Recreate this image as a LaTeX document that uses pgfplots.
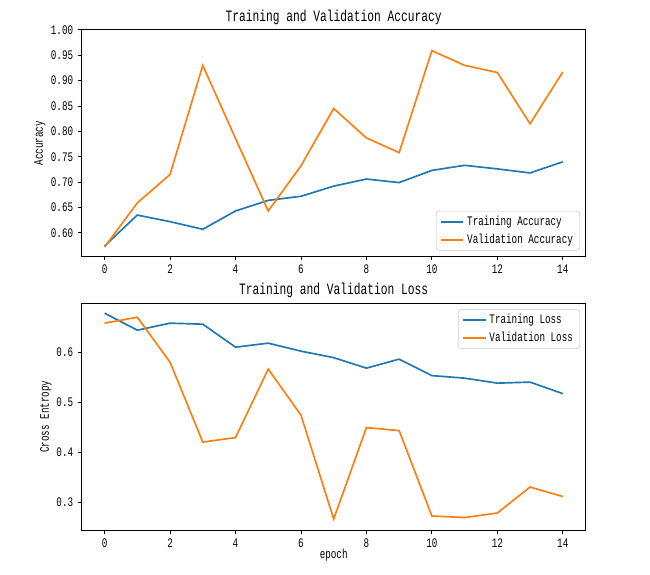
\documentclass[border=0pt]{standalone}
\usepackage{pgfplots}
\pgfplotsset{compat=1.18}
\usepackage{fontspec}
\setmainfont{Liberation Mono}[FakeStretch=0.71]

\definecolor{tabblue}{HTML}{1F77B4}
\definecolor{taborange}{HTML}{FF7F0E}

\newcommand{\ticksize}{\fontsize{9.4}{10.2}\selectfont}
\newcommand{\titlesize}{\fontsize{11.4}{13}\selectfont}

\pgfplotsset{
  mpl/.style={
    scale only axis,
    width=362.9pt, height=163.3pt,
    xmin=-0.7, xmax=14.7,
    xtick={0,2,...,14},
    tick align=outside,
    tick pos=left,
    major tick length=2.6pt,
    tick style={black, line width=0.6pt},
    axis line style={black, line width=0.6pt},
    every tick label/.append style={font=\ticksize},
    /pgf/number format/assume math mode=true,
    every axis title/.style={font=\titlesize, at={(0.5,1)}, anchor=base, yshift=6pt},
    legend cell align=left,
    legend image code/.code={\draw[#1, line width=1.45pt] (0pt,0pt) -- (16pt,0pt);},
    legend style={font=\ticksize, draw=black!20, rounded corners=2pt,
      fill=white, fill opacity=0.8, text opacity=1,
      inner xsep=3pt, inner ysep=1.5pt, row sep=0.5pt},
  },
  trn/.style={tabblue, line width=1.2pt},
  val/.style={taborange, line width=1.2pt},
}

\begin{document}
\begin{tikzpicture}
\useasboundingbox (0,0) rectangle (468pt,413.3pt);

% accuracy per epoch
\begin{axis}[mpl,
    at={(58.8pt,228.5pt)}, anchor=south west,
    ymin=0.553, ymax=1.0,
    ytick={0.60,0.65,0.70,0.75,0.80,0.85,0.90,0.95,1.00},
    yticklabel style={/pgf/number format/.cd, fixed, fixed zerofill, precision=2},
    title={Training and Validation Accuracy},
    ylabel={Accuracy},
    every axis y label/.style={at={(axis description cs:-0.0827,0.5)}, rotate=90, anchor=center, font=\ticksize},
    legend style={at={(1,0)}, anchor=south east, xshift=-4pt, yshift=4.4pt},
  ]
  \addplot[trn] coordinates {
    (0,0.574) (1,0.635) (2,0.622) (3,0.607) (4,0.643) (5,0.664) (6,0.672) (7,0.692)
    (8,0.706) (9,0.699) (10,0.723) (11,0.733) (12,0.726) (13,0.718) (14,0.740)
  };
  \addlegendentry{Training Accuracy}
  \addplot[val] coordinates {
    (0,0.572) (1,0.659) (2,0.715) (3,0.930) (4,0.786) (5,0.643) (6,0.732) (7,0.845)
    (8,0.787) (9,0.758) (10,0.959) (11,0.930) (12,0.916) (13,0.815) (14,0.917)
  };
  \addlegendentry{Validation Accuracy}
\end{axis}

% loss per epoch
\begin{axis}[mpl,
    at={(58.8pt,31.7pt)}, anchor=south west,
    ymin=0.245, ymax=0.699,
    ytick={0.3,0.4,0.5,0.6},
    yticklabel style={/pgf/number format/.cd, fixed, fixed zerofill, precision=1},
    title={Training and Validation Loss},
    ylabel={Cross Entropy},
    xlabel={epoch},
    every axis y label/.style={at={(axis description cs:-0.0708,0.5)}, rotate=90, anchor=center, font=\ticksize},
    every axis x label/.style={at={(axis description cs:0.5,0)}, anchor=base, yshift=-20.2pt, font=\ticksize},
    legend style={at={(1,1)}, anchor=north east, xshift=-4pt, yshift=-4.4pt},
  ]
  \addplot[trn] coordinates {
    (0,0.679) (1,0.645) (2,0.659) (3,0.657) (4,0.611) (5,0.619) (6,0.603) (7,0.590)
    (8,0.569) (9,0.587) (10,0.554) (11,0.549) (12,0.539) (13,0.541) (14,0.518)
  };
  \addlegendentry{Training Loss}
  \addplot[val] coordinates {
    (0,0.659) (1,0.671) (2,0.581) (3,0.421) (4,0.430) (5,0.567) (6,0.475) (7,0.267)
    (8,0.450) (9,0.444) (10,0.273) (11,0.270) (12,0.279) (13,0.331) (14,0.312)
  };
  \addlegendentry{Validation Loss}
\end{axis}
\end{tikzpicture}
\end{document}
